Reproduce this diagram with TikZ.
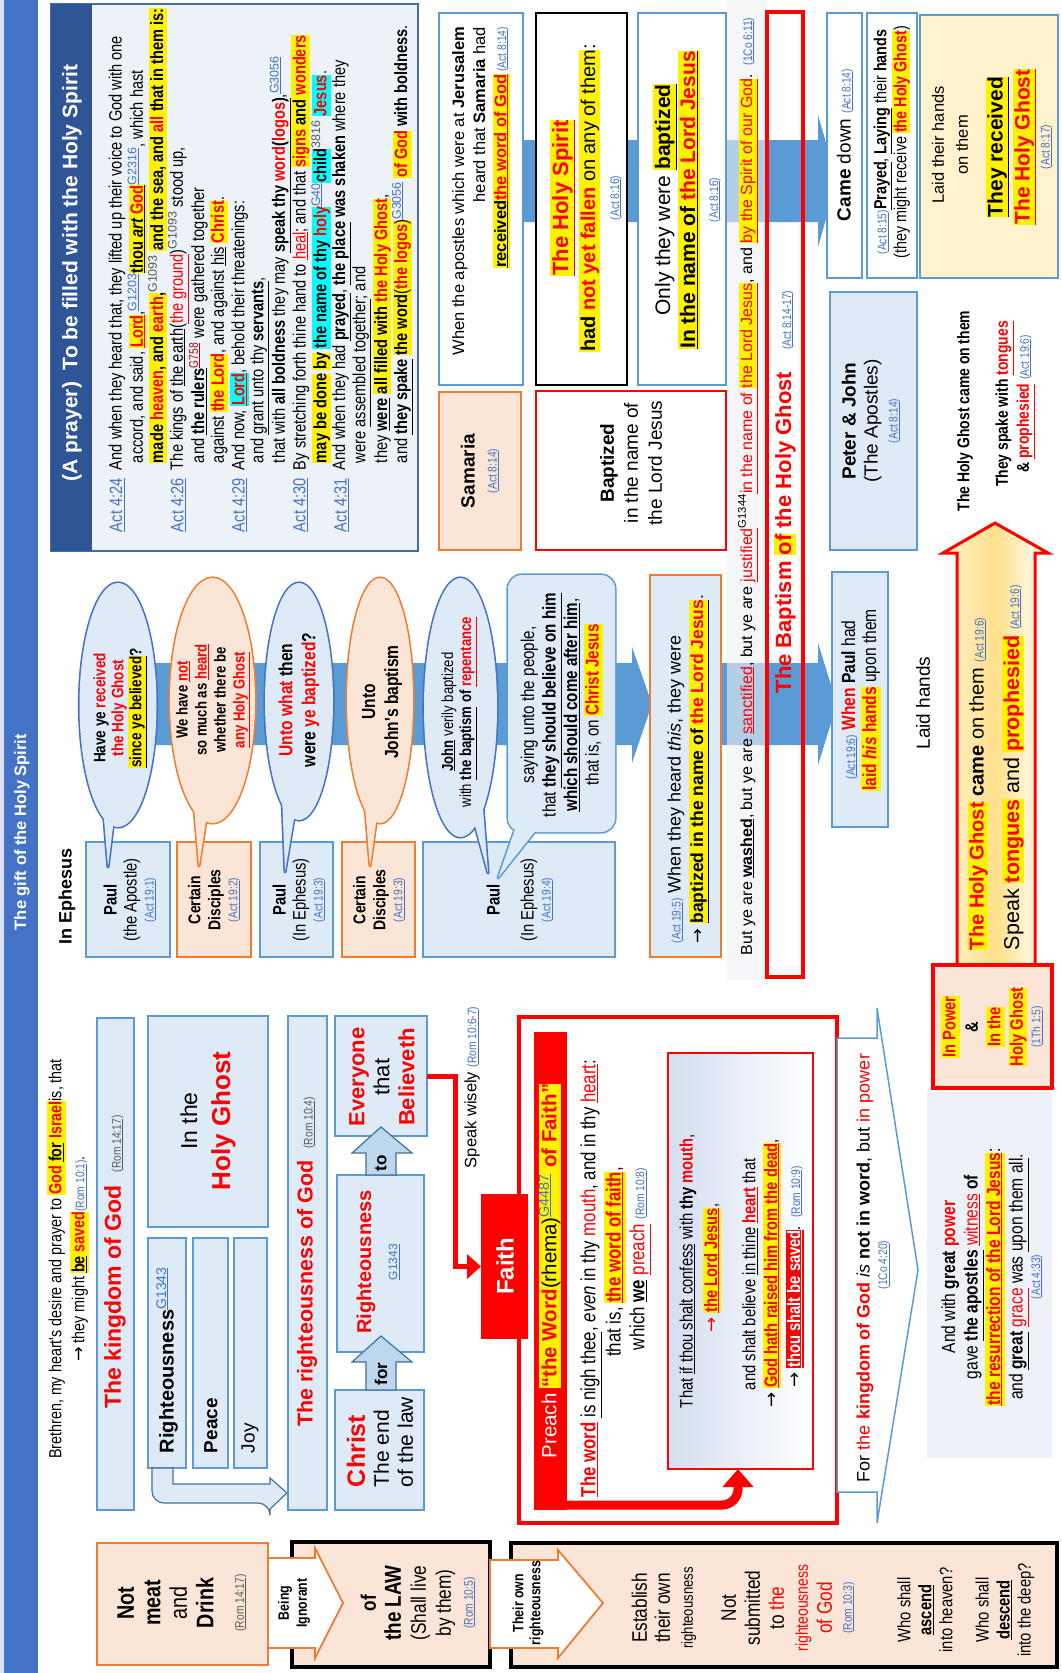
\documentclass[tikz,border=0pt]{standalone}
\usepackage{fontspec}
\setmainfont{Liberation Sans}
\newfontfamily\nrw[FakeStretch=0.82]{Liberation Sans}
\newfontfamily\dvs{DejaVu Sans}
\usetikzlibrary{fit,arrows.meta}
\definecolor{tblue}{HTML}{4472C4}
\definecolor{hdr}{HTML}{2F5597}
\definecolor{panel}{HTML}{EDF2F9}
\definecolor{lb}{HTML}{DEEBF7}
\definecolor{bb}{HTML}{5B9BD5}
\definecolor{lo}{HTML}{FBE5D6}
\definecolor{ob}{HTML}{ED7D31}
\definecolor{band}{HTML}{5B9BD5}
\definecolor{ly}{HTML}{FFF2CC}
\definecolor{gr}{HTML}{595959}
\definecolor{cy}{HTML}{00FFFF}
\definecolor{ab}{HTML}{41719C}
\definecolor{afill}{HTML}{BDD7EE}
\definecolor{gy}{HTML}{FFE08A}
\definecolor{ibl}{HTML}{D3DEF1}
\definecolor{gwc}{HTML}{EEF2F8}
\definecolor{stripc}{HTML}{EEF0F4}
\newcommand\fS[2]{\fontsize{#1}{#2}\selectfont}
\newcommand\aR{{\dvs\mdseries →}}
\newcommand\hSt{\rule[-.24em]{0pt}{1.04em}}
\newcommand\hY[1]{{\setlength{\fboxsep}{0pt}\colorbox{yellow}{\hSt#1}}}
\newcommand\hC[1]{{\setlength{\fboxsep}{0pt}\colorbox{cy}{\hSt#1}}}
\newcommand\hR[1]{{\setlength{\fboxsep}{0pt}\colorbox{red}{\hSt#1}}}
\newcommand\rD[1]{\textcolor{red}{#1}}
\newcommand\uL[1]{\underline{#1}}
\newcommand\rF[1]{{\normalfont\nrw\fS{12.5}{14}\textcolor{tblue}{(\underline{#1})}}}
\newcommand\rG[1]{{\normalfont\nrw\fS{12.5}{14}\textcolor{gr}{(\underline{#1})}}}
\newcommand\gS[1]{\textsuperscript{\normalfont\textcolor{tblue}{\underline{#1}}}}
\newcommand\gG[1]{\textsuperscript{\normalfont\textcolor{gr}{#1}}}
\begin{document}
\begin{tikzpicture}[x=1pt,y=-1pt,
  T/.style={rotate=90,inner sep=0pt,outer sep=0pt,align=center},
  AL/.style={T,anchor=west,font=\nrw\fS{17.8}{20}},
  bx/.style={inner sep=0pt,outer sep=0pt,line width=1.8pt},
  box/.style={bx,draw=bb,fill=lb},
  obox/.style={bx,draw=ob,fill=lo},
  wbox/.style={bx,draw=bb,fill=white},
  kbox/.style={bx,draw=black,line width=4pt,fill=lo}]
\useasboundingbox (0,0) rectangle (1061,1673);
\fill[white] (0,0) rectangle (1061,1673);
% ---------- title bar
\fill[tblue!20] (0,0) rectangle (4,1673);
\node[bx,fill=tblue,fit={(4,0)(38,1673)}] (bar) {};
\node[T,text=white,font=\bfseries\fS{16.5}{20}] (title) at (22,832) {The gift of the Holy Spirit};
% ---------- prayer panel
\node[bx,draw=ab,line width=1.5pt,fill=panel,fit={(51,4)(418,551)}] (panel) {};
\node[bx,fill=hdr,fit={(51,4)(92,551)}] (hdr) {};
\node[T,text=white,font=\bfseries\fS{21}{24}] (hdrt) at (72,273) {(A prayer)\ \ To be filled with the Holy Spirit};
\node[AL,text=tblue] (r1) at (117,532) {\uL{Act 4:24}};
\node[AL,text=tblue] (r2) at (178.2,532) {\uL{Act 4:26}};
\node[AL,text=tblue] (r3) at (239.4,532) {\uL{Act 4:29}};
\node[AL,text=tblue] (r4) at (300.6,532) {\uL{Act 4:30}};
\node[AL,text=tblue] (r5) at (341.4,532) {\uL{Act 4:31}};
\node[AL] (p1) at (117,470) {And when they heard that, they lifted up their voice to God with one};
\node[AL] (p2) at (137.4,463) {accord, and said, \hY{\textbf{\rD{\uL{Lord}}}},\gS{G1203}\hY{\textbf{\uL{thou \textit{art} \rD{God}}}}\gS{G2316}, which hast};
\node[AL] (p3) at (157.8,463) {\textbf{\hY{made \rD{heaven}, and \rD{earth},}\gG{G1093} \hY{and the sea, and \rD{all} that in them is:}}};
\node[AL] (p4) at (178.2,470) {The kings of \uL{the earth}(\rD{\uL{the ground}})\gG{G1093} stood up,};
\node[AL] (p5) at (198.6,463) {and \textbf{\uL{the rulers}}\textsuperscript{\textcolor{red!70!black}{\uL{G758}}} were gathered together};
\node[AL] (p6) at (219,463) {against \hY{\textbf{\rD{the Lord}}}, and against \uL{his} \hY{\textbf{\rD{Christ}}}.};
\node[AL] (p7) at (239.4,470) {And now, \hC{\textbf{\rD{\uL{Lord}}}}, behold their threatenings:};
\node[AL] (p8) at (259.8,463) {and \uL{grant unto thy \textbf{servants}},};
\node[AL] (p9) at (280.2,463) {that with \textbf{all boldness} they may \textbf{\uL{speak thy \rD{word}(\rD{logos})}},\gS{G3056}};
\node[AL] (p10) at (300.6,470) {By stretching forth thine hand to \rD{\uL{heal}}; and that \hY{\textbf{\rD{signs} and \rD{wonders}}}};
\node[AL] (p11) at (321,463) {\textbf{\hY{may be done} \hY{by} \hC{the name of thy \rD{holy}}\gS{G40}\hC{child}\gG{3816} \hC{\rD{Jesus}}}.};
\node[AL] (p12) at (341.4,470) {And when they had \textbf{\uL{prayed}}, \textbf{\uL{the place} was shaken} where they};
\node[AL] (p13) at (361.8,463) {were \uL{assembled together}; and};
\node[AL] (p14) at (382.2,463) {they \textbf{\uL{were}} \hY{\textbf{all filled with \rD{the Holy Ghost}}},};
\node[AL] (p15) at (402.6,463) {and \textbf{\uL{they spake}} \hY{\textbf{the word}(\rD{\textbf{the logos}})}\gS{G3056} \hY{\textbf{\rD{of God}}} \textbf{with boldness}.};
% ---------- blue process bands
\fill[band] (480,140) -- (818,140) -- (818,115) -- (837,181) -- (818,247) -- (818,222) -- (480,222) -- cycle;
\fill[band] (110,663) -- (632,663) -- (632,647) -- (652,704) -- (632,763) -- (632,745) -- (110,745) -- cycle;
\fill[band] (715,663) -- (818,663) -- (818,643) -- (837,704) -- (818,765) -- (818,745) -- (715,745) -- cycle;
% ---------- Samaria column
\node[wbox,fit={(439,13)(523,385)}] (sa) {};
\node[T,anchor=east,align=right,font=\fS{16.5}{21}] (sat) at (481,27) {When the apostles which were at \textbf{Jerusalem}\\ heard that \textbf{Samaria} had\\ \hY{\textbf{\uL{received}}\textbf{\rD{\uL{the word of God}}}}\,\rF{Act 8:14}};
\node[bx,draw=black,line width=2pt,fill=white,fit={(536,13)(627,385)}] (sb) {};
\node[T,font=\fS{20}{27}] (sbt) at (586,198) {{\fS{22}{27}\hY{\textbf{\rD{\uL{The Holy Spirit}}}}}\\ \hY{\textbf{had \rD{not yet fallen}} on any of them}:\\[-3pt] \rF{Act 8:16}};
\node[wbox,fit={(638,13)(726,385)}] (sc) {};
\node[T,font=\fS{21}{25}] (sct) at (687,200) {Only they were \hY{\textbf{\uL{baptized}}}\\ \hY{\textbf{\uL{In the name of \rD{the Lord Jesus}}}}\\[-2pt] \rF{Act 8:16}};
\node[obox,fit={(439,392)(521,550)}] (sam) {};
\node[T,font=\fS{19}{22}] (samt) at (480,471) {\textbf{Samaria}\\ \rF{Act 8:14}};
\node[bx,draw=red,line width=2pt,fill=white,fit={(536,391)(726,550)}] (bap) {};
\node[T,font=\fS{19}{24}] (bapt) at (631,463) {\textbf{Baptized}\\ in the name of\\ the Lord Jesus};
% ---------- 1Co 6:11 strip
\fill[stripc,fill opacity=0.6] (727,0) rectangle (767,980);
\node[T,anchor=west,font=\fS{16}{20}] (bye) at (748,955) {But ye are \textbf{\uL{washed}}, but ye are \rD{\uL{sanctified}}, but ye are \rD{\uL{justified}}\textsuperscript{G1344}\rD{\uL{in the name of \hY{the Lord Jesus}}}, and \hY{\rD{\uL{by the Spirit of our God}}}.\ \ \rF{1Co 6:11}};
\node[bx,draw=red,line width=4pt,fit={(767,12)(803,977)}] (bhg) {};
\node[T,font=\bfseries\fS{22}{24}] (bhgt) at (785,492) {\rD{The Baptism \hY{of} the Holy Ghost}\quad\rF{Act 8:14-17}};
% ---------- Samaria results
\node[wbox,fit={(827,13)(862,278)}] (cd) {};
\node[T,font=\fS{19}{22}] (cdt) at (845,145) {\textbf{Came} down \rF{Act 8:14}};
\node[wbox,fit={(867,13)(917,278)}] (pr) {};
\node[T,font=\nrw\fS{17.5}{20}] (prt) at (892,142) {\rF{Act 8:15}\textbf{\uL{Prayed}}, \textbf{\uL{Laying}} their \textbf{hands}\\ (they might receive \hY{\textbf{\rD{the Holy Ghost}}})};
\node[bx,draw=bb,fill=ly,fit={(920,15)(1058,278)}] (lyb) {};
\node[T,font=\fS{16.5}{24}] (lyt1) at (950,145) {Laid their hands\\ on them};
\node[T,font=\bfseries\fS{21}{27}] (lyt2) at (1019,147) {\hY{\uL{They received}}\\ \hY{\rD{\uL{The Holy Ghost}}}\\[-7pt] \rF{Act 8:17}};
\node[box,fit={(830,292)(917,550)}] (pj) {};
\node[T,font=\fS{19}{22}] (pjt) at (871,421) {\textbf{Peter \& John}\\ (The Apostles)\\[-2pt] \rF{Act 8:14}};
\node[T,font=\nrw\bfseries\fS{17}{20}] (hgc) at (965,411) {The Holy Ghost came on them};
\node[T,font=\nrw\bfseries\fS{17}{21}] (tsw) at (1015,404) {They spake with \rD{\uL{tongues}}\\ \& \rD{\uL{prophesied}} \rF{Act 19:6}};
% ---------- big arrow + In Power
\draw[red,line width=3pt,left color=ly,right color=white,middle color=gy] (957,965) -- (957,553) -- (943,553) -- (995,523) -- (1048,553) -- (1035,553) -- (1035,965) -- cycle;
\node[T,anchor=west,font=\fS{20}{24}] (hgt) at (978,950) {\hY{\textbf{\rD{The Holy Ghost}}} \textbf{came} on them \rF{Act 19:6}};
\node[T,anchor=west,font=\fS{21.5}{24}] (spk) at (1013,950) {Speak \hY{\textbf{\rD{tongues}}} and \hY{\textbf{\rD{prophesied}}} \rF{Act 19:6}};
\node[bx,draw=red,line width=4pt,fill=lo,fit={(933,965)(1052,1088)}] (ip) {};
\node[T,font=\nrw\bfseries\fS{18}{22.5}] (ipt) at (992,1027) {\hY{\rD{In Power}}\\ \&\\ \hY{\rD{In the}}\\ \hY{\rD{Holy Ghost}}\\[-5pt] \rF{1Th 1:5}};
\node[T,font=\fS{19}{22}] (lh) at (923,703) {Laid hands};
\node[box,fit={(832,572)(888,827)}] (wp) {};
\node[T,font=\nrw\fS{19}{21}] (wpt) at (861,700) {\rF{Act 19:6} \textbf{\rD{When}} \textbf{Paul} had\\ \hY{\textbf{\rD{laid \textit{his} hands}}} upon them};
% ---------- Ephesus
\node[T,font=\bfseries\fS{18}{20}] (eph) at (67,896) {In Ephesus};
\node[box,fit={(86,842)(170,957)}] (e1) {};
\node[T,font=\nrw\fS{18}{20}] (e1t) at (130,900) {\textbf{Paul}\\ (the Apostle)\\[-3pt] \rF{Act 19:1}};
\node[obox,fit={(177,842)(251,957)}] (e2) {};
\node[T,font=\nrw\bfseries\fS{17}{20}] (e2t) at (214,900) {Certain\\ Disciples\\[-3pt] \rF{Act 19:2}};
\node[box,fit={(260,842)(333,957)}] (e3) {};
\node[T,font=\nrw\fS{18}{20}] (e3t) at (299,900) {\textbf{Paul}\\ (In Ephesus)\\[-3pt] \rF{Act 19:3}};
\node[obox,fit={(342,842)(415,957)}] (e4) {};
\node[T,font=\nrw\bfseries\fS{17}{20}] (e4t) at (379,900) {Certain\\ Disciples\\[-3pt] \rF{Act 19:3}};
\node[box,fit={(423,842)(615,957)}] (e5) {};
\node[T,font=\nrw\fS{18}{20}] (e5t) at (520,900) {\textbf{Paul}\\[14pt] (In Ephesus)\\[-3pt] \rF{Act 19:4}};
% bubbles: border pass
\draw[tblue,line width=3.2pt,line join=round] (118,705) ellipse [x radius=38.5pt,y radius=122pt];
\draw[tblue,line width=3.2pt,line join=round] (102,795) -- (108,867) -- (117,795) -- cycle;
\draw[ob,line width=3.2pt,line join=round] (212.5,700.5) ellipse [x radius=42.5pt,y radius=122.5pt];
\draw[ob,line width=3.2pt,line join=round] (193,795) -- (199,866) -- (210,795) -- cycle;
\draw[tblue,line width=3.2pt,line join=round] (299,701.5) ellipse [x radius=34pt,y radius=118.5pt];
\draw[tblue,line width=3.2pt,line join=round] (282,795) -- (285,872) -- (298,795) -- cycle;
\draw[ob,line width=3.2pt,line join=round] (380,700.5) ellipse [x radius=33pt,y radius=122.5pt];
\draw[ob,line width=3.2pt,line join=round] (364,795) -- (370,866) -- (380,795) -- cycle;
\draw[tblue,line width=3.2pt,line join=round] (460.5,707.5) ellipse [x radius=36.5pt,y radius=129.5pt];
\draw[tblue,line width=3.2pt,line join=round] (468,800) -- (488,873) -- (482,795) -- cycle;
\draw[bb,line width=3.2pt,line join=round,rounded corners=14pt] (508,575) rectangle (615,832);
\draw[bb,line width=3.2pt,line join=round] (520,815) -- (498,878) -- (548,815) -- cycle;
% bubbles: fill pass
\fill[lb] (118,705) ellipse [x radius=38.5pt,y radius=122pt];
\fill[lb] (102,795) -- (108,867) -- (117,795) -- cycle;
\fill[lo] (212.5,700.5) ellipse [x radius=42.5pt,y radius=122.5pt];
\fill[lo] (193,795) -- (199,866) -- (210,795) -- cycle;
\fill[lb] (299,701.5) ellipse [x radius=34pt,y radius=118.5pt];
\fill[lb] (282,795) -- (285,872) -- (298,795) -- cycle;
\fill[lo] (380,700.5) ellipse [x radius=33pt,y radius=122.5pt];
\fill[lo] (364,795) -- (370,866) -- (380,795) -- cycle;
\fill[lb] (460.5,707.5) ellipse [x radius=36.5pt,y radius=129.5pt];
\fill[lb] (468,800) -- (488,873) -- (482,795) -- cycle;
\fill[lb,rounded corners=14pt] (508,575) rectangle (615,832);
\fill[lb] (520,815) -- (498,878) -- (548,815) -- cycle;
\node[T,font=\nrw\bfseries\fS{16.5}{18}] (b1t) at (120,708) {Have ye \rD{received}\\ \rD{the Holy Ghost}\\ \hY{\uL{since ye believed}}?};
\node[T,font=\nrw\bfseries\fS{16}{19}] (b2t) at (213,700) {We have \rD{\uL{not}}\\ so much as \rD{\uL{heard}}\\ whether there be\\ \rD{\uL{any Holy Ghost}}};
\node[T,font=\nrw\bfseries\fS{19}{23}] (b3t) at (299,700) {\rD{Unto what} then\\ were \rD{ye baptized}?};
\node[T,font=\nrw\bfseries\fS{19}{23}] (b4t) at (382,702) {Unto\\ John's baptism};
\node[T,font=\nrw\fS{16}{18}] (b5t) at (459,712) {\textbf{\uL{John}} verily baptized\\ with \textbf{\uL{the baptism} of \rD{\uL{repentance}}}};
\node[T,font=\nrw\fS{18.5}{21.5}] (b6t) at (562,705) {saying unto the people,\\ that \textbf{\uL{they should believe on him}}\\ \textbf{\uL{which should come after him}},\\ that is, on \hY{\textbf{\rD{Christ Jesus}}}};
\node[bx,draw=ob,fill=lb,fit={(650,575)(721,957)}] (a195) {};
\node[T,anchor=west,font=\fS{18}{22}] (a195a) at (676,943) {\rF{Act 19:5} When they heard \textit{this}, they were};
\node[T,anchor=west,font=\fS{17.5}{22}] (a195b) at (699,943) {\aR\ \hY{\textbf{\uL{baptized in the name of \rD{the Lord Jesus}}}}.};
% ---------- left (Romans) part
\node[T,font=\nrw\fS{17.5}{23}] (br) at (68,1259) {Brethren, my heart's desire and prayer to \hY{\textbf{\rD{God} \uL{for} \rD{Israel}}}is, that\\ \aR\ they might \hY{\textbf{\uL{be} \rD{saved}}}\rF{Rom 10:1}.};
\node[box,fit={(97,1018)(134,1510)}] (kg) {};
\node[T,font=\fS{23}{26}] (kgt) at (115,1262) {\textbf{\rD{The kingdom of God}}\ \ \rG{Rom 14:17}};
\node[box,fit={(148,1238)(186,1468)}] (rg1) {};
\node[T,anchor=west,font=\fS{20}{22}] (rg1t) at (167,1453) {\textbf{Righteousness}\gS{G1343}};
\node[box,fit={(193,1238)(228,1468)}] (pc) {};
\node[T,anchor=west,font=\fS{19}{22}] (pct) at (211,1453) {\textbf{Peace}};
\node[box,fit={(234,1238)(267,1468)}] (jy) {};
\node[T,anchor=west,font=\fS{19}{22}] (jyt) at (250,1453) {Joy};
\node[box,fit={(148,1016)(268,1227)}] (ih) {};
\node[T,font=\fS{23}{33}] (iht) at (208,1121) {In the\\ {\fS{26}{33}\textbf{\rD{Holy Ghost}}}};
\draw[ab,fill=lb,line width=1.2pt] (152,1468) {[rounded corners=12pt] -- (152,1503) -- (270,1503)} -- (270,1509) -- (287,1493) -- (270,1478) -- (270,1484) -- (173,1484) -- (173,1468) -- cycle;
\node[box,fit={(288,1016)(327,1510)}] (rog) {};
\node[T,font=\fS{21.5}{26}] (rogt) at (307,1262) {\textbf{\rD{The righteousness of God}}\ \ \rG{Rom 10:4}};
\node[box,fit={(335,1390)(424,1510)}] (ch) {};
\node[T,anchor=west,align=left,font=\fS{21}{24}] (cht) at (380,1487) {{\fS{25}{24}\textbf{\rD{Christ}}}\\ The end\\ of the law};
\node[box,fit={(337,1175)(424,1352)}] (rg2) {};
\node[T,font=\fS{20}{26}] (rg2t) at (378,1262) {\textbf{\rD{Righteousness}}\\ {\fS{12}{14}\textcolor{tblue}{\uL{G1343}}}};
\node[box,fit={(335,1016)(427,1136)}] (ev) {};
\node[T,font=\fS{22}{25}] (evt) at (382,1077) {\textbf{\rD{Everyone}}\\ that\\ \textbf{\rD{Believeth}}};
\draw[ab,fill=afill,line width=1.2pt] (366,1390) -- (366,1362) -- (352,1362) -- (381,1336) -- (412,1362) -- (396,1362) -- (396,1390) -- cycle;
\node[T,font=\bfseries\fS{17}{20}] (fort) at (381,1374) {for};
\draw[ab,fill=afill,line width=1.2pt] (366,1175) -- (366,1153) -- (352,1153) -- (381,1127) -- (412,1153) -- (396,1153) -- (396,1175) -- cycle;
\node[T,font=\bfseries\fS{17}{20}] (tot) at (381,1163) {to};
\node[T,anchor=west,font=\fS{16.5}{20}] (sw) at (472,1168) {Speak wisely \rF{Rom 10:6-7}};
% ---------- Preach / Faith
\node[bx,draw=red,line width=3.5pt,fit={(519,1017)(837,1523)}] (rr) {};
\node[bx,fill=red,fit={(534,1032)(567,1510)}] (pb) {};
\node[T,font=\fS{20.5}{26}] (pbt) at (550,1271) {\textcolor{white}{Preach} \hY{\textbf{\rD{“the Word}}(rhema)\gS{G4487} \textbf{\rD{of Faith”}}}};
\node[bx,fill=red,fit={(481,1194)(528,1339)}] (fa) {};
\node[T,font=\bfseries\fS{24}{26},text=white] (fat) at (505,1266) {Faith};
\draw[red,line width=5pt,-{Triangle[length=14pt,width=24pt]}] (ev.east) -- ++(28,0) |- (fa.west);
\node[T,anchor=west,font=\nrw\fS{20.5}{24}] (w1) at (591,1497) {\textbf{\rD{\uL{The word}}} \uL{is nigh thee}, \textit{even} in thy \rD{mouth}, and in thy \rD{\uL{heart}}:};
\node[T,font=\nrw\fS{20.5}{24}] (w2) at (615,1262) {that is, \hY{\textbf{\rD{\uL{the word of faith}}}},};
\node[T,font=\nrw\fS{20.5}{24}] (w3) at (640,1259) {which \textbf{\uL{we}} \rD{\uL{preach}} \rF{Rom 10:8}};
\node[bx,draw=red,line width=1.5pt,left color=ibl,right color=white,fit={(668,1053)(813,1469)}] (ib) {};
\draw[red,line width=9pt,rounded corners=16pt,-{Triangle[length=18pt,width=30pt]}] (545,1505) -| (ib.south -| 738,0);
\node[T,anchor=west,font=\nrw\fS{18}{20}] (i1) at (688,1408) {That \uL{if thou shalt confess} with \textbf{thy} \textbf{\rD{mouth}},};
\node[T,anchor=west,font=\nrw\fS{18}{20}] (i2) at (712,1332) {\rD{\aR} \hY{\textbf{\rD{\uL{the Lord Jesus}}}},};
\node[T,anchor=west,font=\nrw\fS{18}{20}] (i3) at (750,1390) {and shalt believe \uL{in thine} \textbf{\rD{\uL{heart}}} that};
\node[T,anchor=west,font=\nrw\fS{18}{20}] (i4) at (772,1407) {\aR\ \hY{\textbf{\rD{\uL{God hath raised him from the dead}}}},};
\node[T,anchor=west,font=\nrw\fS{18}{20}] (i5) at (795,1387) {\aR\ \hR{\textbf{\textcolor{white}{\uL{thou shalt be saved}}}}.\ \ \rF{Rom 10:9}};
\draw[bb,line width=1.5pt,fill=white] (837,1038) -- (877,1038) -- (877,1008) -- (918,1270) -- (877,1523) -- (877,1492) -- (837,1492) -- cycle;
\node[T,anchor=west,font=\fS{18}{22}] (fk) at (865,1482) {For \rD{the} \textbf{\rD{kingdom of God}} \textit{is} \textbf{not in word}, but \rD{in power}};
\node[T] (fkr) at (884,1265) {\rF{1Co 4:20}};
\node[bx,fill=gwc,fit={(927,1092)(1052,1458)}] (gw) {};
\node[T,font=\nrw\fS{19}{22.5}] (gwt) at (992,1277) {And with \textbf{great} \textbf{\rD{power}}\\ gave \textbf{\uL{the apostles}} \rD{\uL{witness}} \textbf{of}\\ \hY{\textbf{\rD{\uL{the resurrection of the Lord Jesus}}}}:\\ and \textbf{\uL{great}} \rD{\uL{grace}} was \uL{upon them all}.\\[-5pt] \rF{Act 4:33}};
% ---------- bottom row
\node[obox,fit={(97,1543)(268,1665)}] (nm) {};
\node[T,font=\nrw\fS{24}{26.5}] (nmt) at (182,1603) {\textbf{Not}\\ \textbf{meat}\\ and\\ \textbf{Drink}\\[4pt] \rG{Rom 14:17}};
\node[kbox,fit={(292,1542)(490,1667)}] (law) {};
\node[kbox,fit={(511,1543)(1057,1667)}] (es) {};
\draw[ob,line width=1.8pt,fill=white] (268,1558) -- (315,1558) -- (315,1548) -- (343,1603) -- (315,1658) -- (315,1648) -- (268,1648) -- cycle;
\node[T,font=\nrw\bfseries\fS{15}{18}] (bi) at (294,1603) {Being\\ Ignorant};
\node[T,font=\nrw\fS{21}{25}] (lawt) at (418,1603) {\textbf{of}\\ \textbf{{\fS{23}{25}the LAW}}\\ (Shall live\\ by them)\\[-3pt] \rF{Rom 10:5}};
\draw[ob,line width=1.8pt,fill=white] (490,1560) -- (558,1560) -- (558,1550) -- (603,1603) -- (558,1658) -- (558,1648) -- (490,1648) -- cycle;
\node[T,font=\nrw\bfseries\fS{15}{17}] (tor) at (528,1603) {Their own\\ righteousness};
\node[T,font=\nrw\fS{21}{23}] (es1) at (664,1608) {Establish\\ their own\\ {\fS{16}{20}righteousness}};
\node[T,font=\nrw\fS{21}{24}] (es2) at (788,1608) {Not\\ submitted\\ to \rD{the}\\ {\fS{17}{18}\rD{righteousness}}\\ \rD{of God}\\[-4pt] \rF{Rom 10:3}};
\node[T,font=\nrw\fS{18}{21}] (es3) at (925,1610) {Who shall\\ \textbf{\uL{ascend}}\\ into heaven?};
\node[T,font=\nrw\fS{18}{21}] (es4) at (1005,1610) {Who shall\\ \textbf{\uL{descend}}\\ into the deep?};
\end{tikzpicture}
\end{document}
